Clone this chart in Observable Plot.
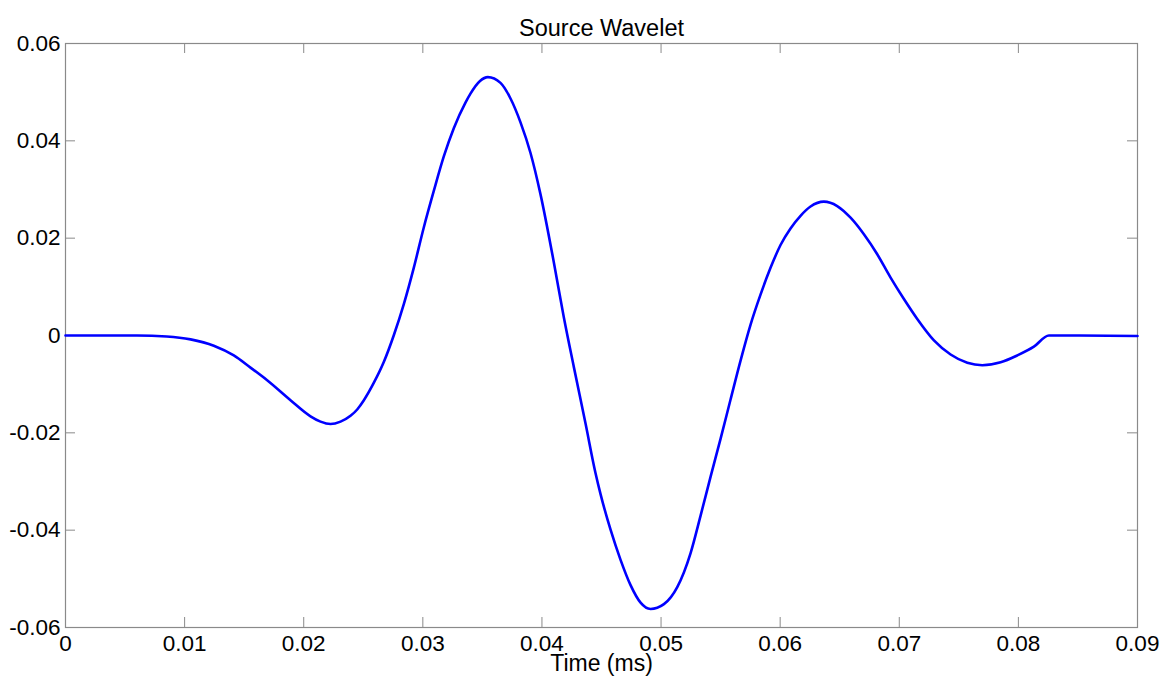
<!DOCTYPE html>
<html>
<head>
<meta charset="utf-8">
<script src="https://cdn.jsdelivr.net/npm/d3@7"></script>
<script src="https://cdn.jsdelivr.net/npm/@observablehq/plot@0.6"></script>
<style>
  html, body { margin: 0; padding: 0; background: #fff; }
  #chart svg { display: block; }
</style>
</head>
<body>
<div id="chart"></div>
<script>
const chartTitle = "Source Wavelet";
const xLabel = "Time (ms)";

const time = [
  0, 0.002, 0.004, 0.006, 0.0085, 0.0105, 0.01245, 0.01413, 0.01553, 0.01693,
  0.01889, 0.02057, 0.02141, 0.02225, 0.02309, 0.02393, 0.02449, 0.02505, 0.02589, 0.02673,
  0.02757, 0.02841, 0.02925, 0.03008, 0.03092, 0.03176, 0.0326, 0.03359, 0.034, 0.0348,
  0.03546, 0.03652, 0.03736, 0.0382, 0.03904, 0.03988, 0.041, 0.04184, 0.04268, 0.04366,
  0.0445, 0.04492, 0.04576, 0.0466, 0.04744, 0.04828, 0.04912, 0.05024, 0.05136, 0.05248,
  0.05332, 0.05416, 0.055, 0.05584, 0.05668, 0.05751, 0.05835, 0.05919, 0.06003, 0.06087,
  0.06171, 0.06255, 0.06367, 0.06479, 0.06591, 0.06703, 0.06815, 0.06927, 0.07039, 0.07151,
  0.07291, 0.07431, 0.07571, 0.07697, 0.07851, 0.0799, 0.0813, 0.08256, 0.085, 0.09
];
const amplitude = [
  0, 0, 0, 0, -0.0002, -0.0008, -0.0021, -0.0041, -0.0066, -0.0092,
  -0.0133, -0.0166, -0.0177, -0.0182, -0.0177, -0.0165, -0.0152, -0.0133, -0.0097, -0.0054,
  0.0001, 0.0065, 0.014, 0.0222, 0.0297, 0.0368, 0.0426, 0.0479, 0.0497, 0.0523,
  0.0531, 0.0519, 0.0487, 0.0438, 0.0375, 0.029, 0.015, 0.0037, -0.0065, -0.0181,
  -0.0283, -0.0326, -0.0399, -0.0461, -0.0513, -0.0549, -0.0562, -0.0552, -0.0517, -0.0447,
  -0.037, -0.029, -0.0212, -0.0131, -0.0051, 0.0022, 0.0084, 0.0139, 0.0186, 0.022,
  0.0246, 0.0265, 0.0275, 0.0266, 0.0242, 0.0208, 0.0167, 0.0119, 0.0075, 0.0034,
  -0.001, -0.0039, -0.0056, -0.0061, -0.0055, -0.0041, -0.0023, 0, 0, -0.0001
];

const xTicks = [0, 0.01, 0.02, 0.03, 0.04, 0.05, 0.06, 0.07, 0.08, 0.09];
const xTickLabels = ["0", "0.01", "0.02", "0.03", "0.04", "0.05", "0.06", "0.07", "0.08", "0.09"];
const yTicks = [-0.06, -0.04, -0.02, 0, 0.02, 0.04, 0.06];
const yTickLabels = ["-0.06", "-0.04", "-0.02", "0", "0.02", "0.04", "0.06"];

const data = time.map((t, i) => ({t, v: amplitude[i]}));

const W = 1173, H = 682;
const mL = 65, mR = 36, mT = 43, mB = 55;
const plotH = H - mT - mB;
const plotW = W - mL - mR;
const tickLen = 10;
const frameColor = "#8a8a8a";
const font = "'Liberation Sans', Arial, Helvetica, sans-serif";

const chart = Plot.plot({
  width: W,
  height: H,
  marginLeft: mL,
  marginRight: mR,
  marginTop: mT,
  marginBottom: mB,
  style: {fontFamily: font, fontSize: "22.5px", color: "#000", background: "#fff"},
  x: {domain: [0, 0.09]},
  y: {domain: [-0.06, 0.06]},
  marks: [
    // inward ticks on all four sides
    Plot.ruleX(xTicks.slice(1, -1), {x: d => d, stroke: frameColor, strokeWidth: 1, insetTop: plotH - tickLen}),
    Plot.ruleX(xTicks.slice(1, -1), {x: d => d, stroke: frameColor, strokeWidth: 1, insetBottom: plotH - tickLen}),
    Plot.ruleY(yTicks.slice(1, -1), {y: d => d, stroke: frameColor, strokeWidth: 1, insetRight: plotW - tickLen}),
    Plot.ruleY(yTicks.slice(1, -1), {y: d => d, stroke: frameColor, strokeWidth: 1, insetLeft: plotW - tickLen}),
    Plot.frame({stroke: frameColor, strokeWidth: 1.2}),
    Plot.axisX(xTicks, {
      anchor: "bottom", tickSize: 0, tickPadding: 8,
      tickFormat: (d, i) => xTickLabels[i],
      label: null, fill: "#000", fontSize: 22.5
    }),
    Plot.axisY(yTicks, {
      anchor: "left", tickSize: 0, tickPadding: 5,
      tickFormat: (d, i) => yTickLabels[i],
      label: null, fill: "#000", fontSize: 22.5
    }),
    Plot.line(data, {x: "t", y: "v", stroke: "#0000ff", strokeWidth: 2.6, curve: "monotone-x"}),
    Plot.text([chartTitle], {frameAnchor: "top", dy: -24, text: d => d, fontSize: 23.5, fill: "#000"}),
    Plot.text([xLabel], {frameAnchor: "bottom", dy: 43.5, text: d => d, fontSize: 23, fill: "#000"})
  ]
});

document.getElementById("chart").appendChild(chart);
</script>
</body>
</html>
